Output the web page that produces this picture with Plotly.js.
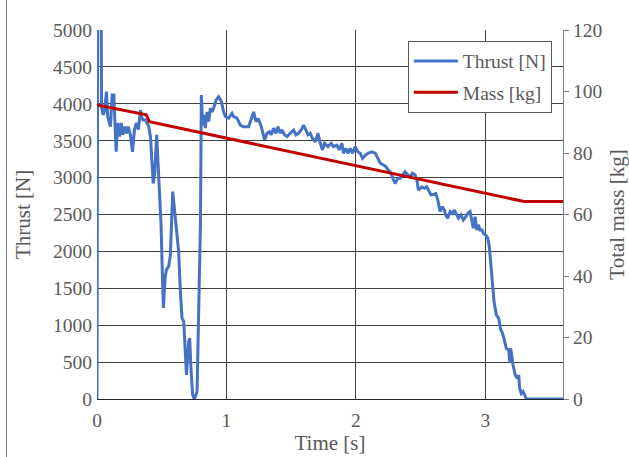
<!DOCTYPE html>
<html><head><meta charset="utf-8">
<script src="https://cdn.plot.ly/plotly-3.0.1.min.js"></script>
<style>html,body{margin:0;padding:0;background:#fff}#chart{width:629px;height:457px;position:relative}
#frame{position:absolute;left:6px;top:0;width:0;height:457px;border-left:1px solid #7f7f7f;pointer-events:none}</style>
</head><body><div id="chart"></div><div id="frame"></div>
<script>
// Thrust curve (time in s, thrust in N)
const timeS = [0,0.006,0.031,0.035,0.048,0.058,0.073,0.083,0.104,0.117,0.130,0.148,0.160,0.174,0.187,0.199,0.215,0.228,0.241,0.258,0.274,0.289,0.305,0.320,0.336,0.343,0.356,0.374,0.400,0.413,0.434,0.446,0.461,0.469,0.482,0.495,0.503,0.513,0.526,0.536,0.554,0.567,0.585,0.600,0.619,0.631,0.644,0.657,0.670,0.691,0.708,0.716,0.727,0.739,0.752,0.773,0.799,0.806,0.816,0.827,0.837,0.850,0.863,0.876,0.889,0.901,0.920,0.940,0.961,0.978,0.992,1.017,1.043,1.056,1.082,1.100,1.107,1.130,1.171,1.210,1.228,1.246,1.269,1.295,1.313,1.331,1.346,1.364,1.383,1.398,1.416,1.429,1.449,1.468,1.493,1.519,1.537,1.557,1.578,1.596,1.614,1.630,1.647,1.665,1.686,1.707,1.725,1.742,1.758,1.784,1.809,1.827,1.853,1.871,1.892,1.904,1.923,1.938,1.956,1.974,1.995,2.015,2.033,2.051,2.072,2.093,2.123,2.149,2.170,2.188,2.213,2.231,2.252,2.272,2.290,2.303,2.324,2.342,2.360,2.380,2.401,2.419,2.437,2.458,2.471,2.483,2.496,2.509,2.529,2.548,2.566,2.581,2.597,2.617,2.633,2.650,2.668,2.684,2.694,2.710,2.728,2.745,2.761,2.779,2.792,2.812,2.830,2.849,2.864,2.882,2.895,2.907,2.921,2.934,2.946,2.959,2.975,2.985,3.003,3.019,3.031,3.042,3.052,3.067,3.085,3.103,3.119,3.129,3.144,3.162,3.181,3.188,3.196,3.214,3.231,3.247,3.258,3.265,3.278,3.291,3.304,3.316,3.6];
const thrustN = [0,6000,6000,3960,3850,3900,4165,3825,3690,4120,4120,3350,3740,3555,3740,3580,3690,3600,3690,3580,3350,3645,3740,3650,3915,3825,3780,3780,3690,3555,2920,3060,3580,3330,2900,2360,1815,1233,1640,1750,1800,1950,2810,2540,2130,1995,1455,1095,1050,325,775,825,370,55,0,100,2360,4120,3710,3850,3670,3890,3760,3940,3890,3940,4050,4095,4030,3890,3825,3805,3870,3825,3805,3735,3710,3690,3690,3890,3760,3800,3690,3510,3600,3620,3580,3670,3600,3690,3600,3645,3580,3555,3600,3645,3580,3600,3645,3710,3645,3580,3600,3530,3485,3600,3465,3375,3465,3420,3465,3420,3440,3375,3465,3330,3395,3330,3395,3330,3420,3350,3330,3260,3300,3330,3350,3330,3260,3195,3170,3150,3100,3060,2970,2920,2990,2990,3035,3080,3035,3010,3060,3035,2970,2830,2850,2875,2855,2875,2810,2765,2770,2785,2695,2540,2605,2560,2495,2450,2540,2515,2560,2495,2450,2495,2425,2470,2515,2540,2425,2315,2470,2290,2360,2290,2290,2245,2220,2180,2060,1815,1545,1320,1140,1095,935,910,820,685,665,505,690,460,325,280,325,145,75,100,55,0,0];
// Total mass (kg)
const massTime = [0, 0.38, 0.405, 3.30, 3.6];
const massKg = [95.6, 92.4, 90.2, 64.2, 64.2];
// Axes
const xTickVals = [0, 1, 2, 3];
const yLeftTicks = [0,500,1000,1500,2000,2500,3000,3500,4000,4500,5000];
const yRightTicks = [0,20,40,60,80,100,120];
const seriesNames = ['Thrust [N]', 'Mass [kg]'];

const txt = '#595959';
const fontFam = '"Liberation Serif", "Times New Roman", serif';
const grid = '#404040';

const traces = [
  {x: timeS, y: thrustN, type: 'scatter', mode: 'lines', name: seriesNames[0],
   line: {color: '#4472C4', width: 3}, legendgroup: 'a'},
  {x: massTime, y: massKg, type: 'scatter', mode: 'lines', name: seriesNames[1],
   yaxis: 'y2', line: {color: '#C00000', width: 3}, legendgroup: 'b'}
];

const layout = {
  width: 629, height: 457,
  margin: {l: 97, r: 66, t: 30, b: 58},
  paper_bgcolor: '#fff', plot_bgcolor: '#fff',
  font: {family: fontFam, color: txt, size: 19.5},
  showlegend: true,
  legend: {x: 0.667, y: 0.971, xanchor: 'left', yanchor: 'top',
    bgcolor: '#fff', bordercolor: '#595959', borderwidth: 1,
    font: {family: fontFam, size: 19.5, color: txt},
    itemwidth: 44,
    traceorder: 'grouped', tracegroupgap: 3},
  xaxis: {range: [0, 3.6], tickvals: xTickVals, ticktext: xTickVals.map(String),
    showgrid: true, gridcolor: grid, gridwidth: 1, zeroline: false,
    showline: true, linecolor: '#262626', linewidth: 1, ticks: '',
    ticklabelstandoff: 4,
    tickfont: {size: 19.5, color: txt},
    title: {text: 'Time [s]', font: {size: 21, color: txt}, standoff: 4},
    automargin: false},
  yaxis: {range: [0, 5000], tickvals: yLeftTicks, ticktext: yLeftTicks.map(String),
    showgrid: true, gridcolor: grid, gridwidth: 1, zeroline: false,
    showline: false, ticks: '', tickfont: {size: 19.5, color: txt},
    ticklabelstandoff: 4,
    title: {text: 'Thrust [N]', font: {size: 21, color: txt}, standoff: 16},
    automargin: false},
  yaxis2: {range: [0, 120], tickvals: yRightTicks, ticktext: yRightTicks.map(String),
    overlaying: 'y', side: 'right', showgrid: false, zeroline: false,
    showline: true, linecolor: '#7f7f7f', linewidth: 1,
    ticks: 'outside', ticklen: 5, tickcolor: '#7f7f7f',
    tickfont: {size: 19.5, color: txt},
    title: {text: 'Total mass [kg]', font: {size: 21, color: txt}, standoff: 8},
    automargin: false}
};

Plotly.newPlot('chart', traces, layout, {displayModeBar: false, staticPlot: true});
</script>
</body></html>
